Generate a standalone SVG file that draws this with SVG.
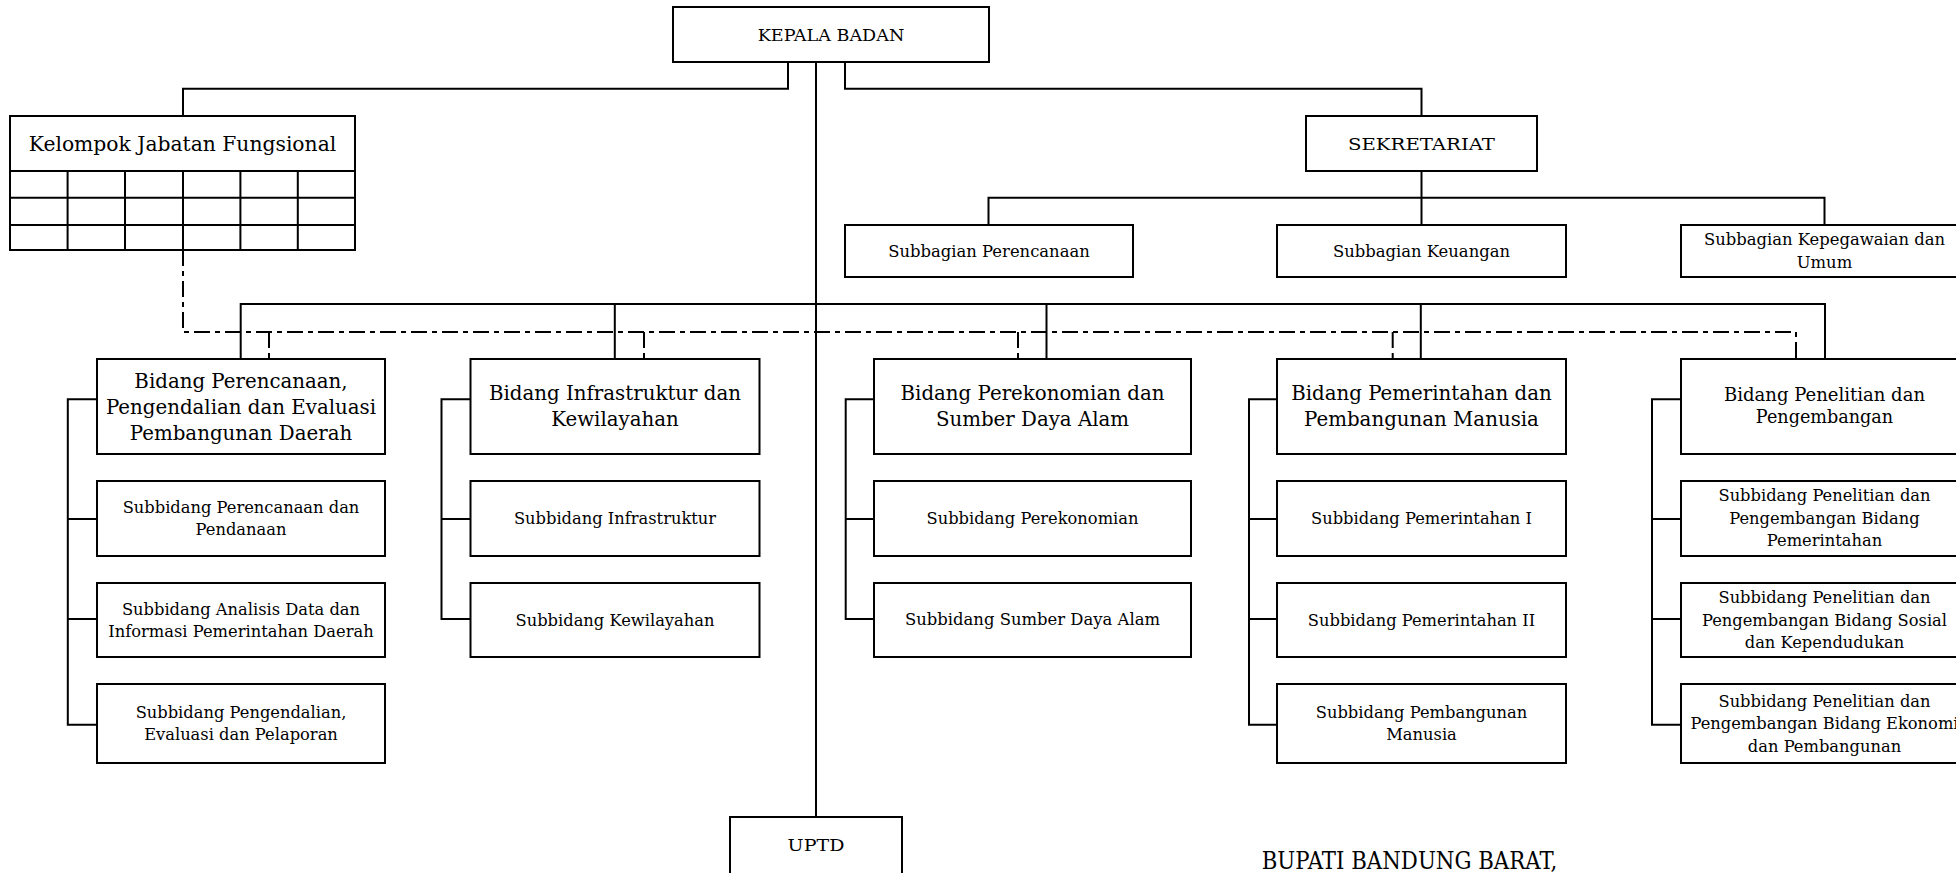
<svg xmlns="http://www.w3.org/2000/svg" width="1956" height="873" viewBox="0 0 1956 873">
<style>
.box{fill:#fff;stroke:#000;stroke-width:2}
.ln{fill:none;stroke:#000;stroke-width:2}
.dd{fill:none;stroke:#000;stroke-width:2;stroke-dasharray:16 5 5 5}
text{font-family:"DejaVu Serif","Liberation Serif",serif;fill:#000;text-anchor:middle}
.s{font-size:16.3px}
.m{font-size:16.4px}
.c{font-size:17px}
.b{font-size:19.8px}
.b5{font-size:17.6px}
.k{font-size:20.3px}
</style>
<rect width="1956" height="873" fill="#fff"/>
<g id="connectors">
<path class="ln" d="M816,62 V817"/>
<path class="ln" d="M788,62 V88.7 H183 V116"/>
<path class="ln" d="M845,62 V88.7 H1421.5 V116"/>
<path class="ln" d="M1421.5,171 V225 M988.5,225 V197.7 H1824.5 V225"/>
<path class="dd" d="M183,250 V332 H1796 V359"/>
<path class="dd" d="M269,332 V359 M644,332 V359 M1018,332 V359 M1392.7,332 V359"/>
<path class="ln" d="M240.7,359 V304 H1825 V359 M614.8,304 V359 M1046.5,304 V359 M1420.8,304 V359"/>
<path class="ln" d="M97,399.3 H67.8 V724.7 H97 M67.8,519 H97 M67.8,619 H97"/>
<path class="ln" d="M470.5,399.3 H441.5 V619 H470.5 M441.5,519 H470.5"/>
<path class="ln" d="M874,399.3 H845.7 V619 H874 M845.7,519 H874"/>
<path class="ln" d="M1277,399.3 H1249 V724.7 H1277 M1249,519 H1277 M1249,619 H1277"/>
<path class="ln" d="M1681,399.3 H1652 V724.7 H1681 M1652,519 H1681 M1652,619 H1681"/>
</g>
<g id="kepala"><rect class="box" x="673" y="7" width="316" height="55"/><text class="c" x="831" y="40.5" textLength="146.6" lengthAdjust="spacingAndGlyphs">KEPALA BADAN</text></g>
<g id="kelompok">
<rect class="box" x="10" y="116" width="345" height="134"/>
<path class="ln" d="M10,171 H355 M10,197.7 H355 M10,225 H355 M67.6,171 V250 M125,171 V250 M183,171 V250 M240.4,171 V250 M297.8,171 V250"/>
<text class="k" x="182.5" y="150.8">Kelompok Jabatan Fungsional</text>
</g>
<g id="sekretariat"><rect class="box" x="1306" y="116" width="231" height="55"/><text class="c" x="1421.5" y="149.5" textLength="147" lengthAdjust="spacingAndGlyphs">SEKRETARIAT</text></g>
<g id="sub-perencanaan"><rect class="box" x="845" y="225" width="288" height="52"/><text class="m" x="989" y="256.7">Subbagian Perencanaan</text></g>
<g id="sub-keuangan"><rect class="box" x="1277" y="225" width="289" height="52"/><text class="m" x="1421.5" y="256.7">Subbagian Keuangan</text></g>
<g id="sub-kepegawaian"><rect class="box" x="1681" y="225" width="290" height="52"/><text class="m" x="1824.5" y="245">Subbagian Kepegawaian dan</text><text class="m" x="1824.5" y="268.4">Umum</text></g>

<g id="bidang1"><rect class="box" x="97" y="359" width="288" height="95"/>
<text class="b" x="241" y="387.6">Bidang Perencanaan,</text><text class="b" x="241" y="413.6">Pengendalian dan Evaluasi</text><text class="b" x="241" y="439.6">Pembangunan Daerah</text></g>
<g id="bidang1-s1"><rect class="box" x="97" y="481" width="288" height="75"/><text class="s" x="241" y="513.4">Subbidang Perencanaan dan</text><text class="s" x="241" y="535.2">Pendanaan</text></g>
<g id="bidang1-s2"><rect class="box" x="97" y="583" width="288" height="74"/><text class="s" x="241" y="614.8">Subbidang Analisis Data dan</text><text class="s" x="241" y="636.6">Informasi Pemerintahan Daerah</text></g>
<g id="bidang1-s3"><rect class="box" x="97" y="684" width="288" height="79"/><text class="s" x="241" y="718.3">Subbidang Pengendalian,</text><text class="s" x="241" y="740.1">Evaluasi dan Pelaporan</text></g>

<g id="bidang2"><rect class="box" x="470.5" y="359" width="289" height="95"/>
<text class="b" x="615" y="400.4">Bidang Infrastruktur dan</text><text class="b" x="615" y="426.4">Kewilayahan</text></g>
<g id="bidang2-s1"><rect class="box" x="470.5" y="481" width="289" height="75"/><text class="s" x="615" y="524.2">Subbidang Infrastruktur</text></g>
<g id="bidang2-s2"><rect class="box" x="470.5" y="583" width="289" height="74"/><text class="s" x="615" y="625.7">Subbidang Kewilayahan</text></g>

<g id="bidang3"><rect class="box" x="874" y="359" width="317" height="95"/>
<text class="b" x="1032.5" y="400.4">Bidang Perekonomian dan</text><text class="b" x="1032.5" y="426.4">Sumber Daya Alam</text></g>
<g id="bidang3-s1"><rect class="box" x="874" y="481" width="317" height="75"/><text class="s" x="1032.5" y="524.2">Subbidang Perekonomian</text></g>
<g id="bidang3-s2"><rect class="box" x="874" y="583" width="317" height="74"/><text class="s" x="1032.5" y="625.3" textLength="255" lengthAdjust="spacingAndGlyphs">Subbidang Sumber Daya Alam</text></g>

<g id="bidang4"><rect class="box" x="1277" y="359" width="289" height="95"/>
<text class="b" x="1421.5" y="400.4">Bidang Pemerintahan dan</text><text class="b" x="1421.5" y="426.4">Pembangunan Manusia</text></g>
<g id="bidang4-s1"><rect class="box" x="1277" y="481" width="289" height="75"/><text class="s" x="1421.5" y="524.2">Subbidang Pemerintahan I</text></g>
<g id="bidang4-s2"><rect class="box" x="1277" y="583" width="289" height="74"/><text class="s" x="1421.5" y="625.7">Subbidang Pemerintahan II</text></g>
<g id="bidang4-s3"><rect class="box" x="1277" y="684" width="289" height="79"/><text class="s" x="1421.5" y="718.3">Subbidang Pembangunan</text><text class="s" x="1421.5" y="740.1">Manusia</text></g>

<g id="bidang5"><rect class="box" x="1681" y="359" width="290" height="95"/>
<text class="b5" x="1824.5" y="400.7" textLength="201" lengthAdjust="spacingAndGlyphs">Bidang Penelitian dan</text><text class="b5" x="1824.5" y="423.3" textLength="137.3" lengthAdjust="spacingAndGlyphs">Pengembangan</text></g>
<g id="bidang5-s1"><rect class="box" x="1681" y="481" width="290" height="75"/><text class="s" x="1824.5" y="501.4">Subbidang Penelitian dan</text><text class="s" x="1824.5" y="523.9">Pengembangan Bidang</text><text class="s" x="1824.5" y="546.4">Pemerintahan</text></g>
<g id="bidang5-s2"><rect class="box" x="1681" y="583" width="290" height="74"/><text class="s" x="1824.5" y="603.4">Subbidang Penelitian dan</text><text class="s" x="1824.5" y="625.9">Pengembangan Bidang Sosial</text><text class="s" x="1824.5" y="648.4">dan Kependudukan</text></g>
<g id="bidang5-s3"><rect class="box" x="1681" y="684" width="290" height="79"/><text class="s" x="1824.5" y="706.8">Subbidang Penelitian dan</text><text class="s" x="1824.5" y="729.3">Pengembangan Bidang Ekonomi</text><text class="s" x="1824.5" y="751.8">dan Pembangunan</text></g>

<g id="uptd"><rect class="box" x="730" y="817" width="172" height="70"/><text class="c" x="816" y="851" textLength="56.8" lengthAdjust="spacingAndGlyphs">UPTD</text></g>
<text id="bupati" x="1261.7" y="869" style="font-size:24px;text-anchor:start" textLength="295.6" lengthAdjust="spacingAndGlyphs">BUPATI BANDUNG BARAT,</text>
</svg>
